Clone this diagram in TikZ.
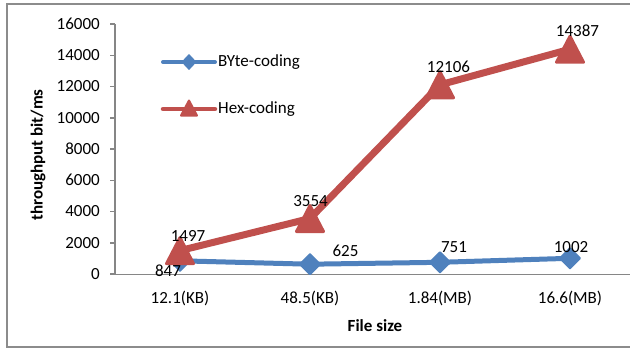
\documentclass[tikz,border=0pt]{standalone}
\usepackage{fontspec}
\setmainfont{Carlito}
\definecolor{serB}{HTML}{4F81BD}
\definecolor{serR}{HTML}{C0504D}
\definecolor{axgray}{HTML}{868686}
\definecolor{brdgray}{HTML}{8C8C8C}
\begin{document}
\begin{tikzpicture}[x=1pt,y=-1pt,
  font=\fontsize{17}{20}\selectfont,
  axisline/.style={draw=axgray, line width=1.5},
  lbl/.style={inner sep=0, anchor=center, text=black},
  ylab/.style={inner sep=0, anchor=east, text=black},
  blueline/.style={draw=serB, line width=5, line join=round, line cap=round},
  redline/.style={draw=serR, line width=7, line join=round, line cap=round},
  tri/.pic={\filldraw[fill=serR, draw=serR, line width=3, line join=round] (-13.5,13) -- (13.5,13) -- (0,-13) -- cycle;},
  trismall/.pic={\filldraw[fill=serR, draw=serR, line width=2, line join=round] (-8,7.5) -- (8,7.5) -- (0,-7.5) -- cycle;},
  dia/.pic={\filldraw[fill=serB, draw=serB, line width=2, line join=round] (-10,0) -- (0,-10) -- (10,0) -- (0,10) -- cycle;},
  diasmall/.pic={\filldraw[fill=serB, draw=serB, line width=1.5, line join=round] (-6.5,0) -- (0,-7) -- (6.5,0) -- (0,7) -- cycle;}
]
\useasboundingbox (0,0) rectangle (630,349);
\fill[white] (0,0) rectangle (630,349);
% outer border
\draw[brdgray, line width=2] (631,4) -- (7,4) -- (7,347) -- (631,347);

% y ticks and labels
\foreach \v/\yy in {0/274,2000/242.75,4000/211.5,6000/180.25,8000/149,10000/117.75,12000/86.5,14000/55.25,16000/24}{
  \draw[axisline] (110,\yy) -- (115,\yy);
  \node[ylab] (yt\v) at (100,\yy) {\v};
}
% axes
\draw[axisline] (115,24) -- (115,274.5) -- (631,274.5);

% category labels
\node[lbl] (c1) at (180,298) {12.1(KB)};
\node[lbl] (c2) at (310,298) {48.5(KB)};
\node[lbl] (c3) at (440,298) {1.84(MB)};
\node[lbl] (c4) at (570,298) {16.6(MB)};

% axis titles
\node[lbl, font=\fontsize{17}{20}\selectfont\bfseries] (xt) at (375,326) {File size};
\node[lbl, rotate=90, font=\fontsize{17}{20}\selectfont\bfseries] (yttl) at (38,155) {throughput bit/ms};

% data points
\coordinate (b1) at (180,260.8);
\coordinate (b2) at (310,264.2);
\coordinate (b3) at (440,262.3);
\coordinate (b4) at (570,258.3);
\coordinate (h1) at (180,250.6);
\coordinate (h2) at (310,218.5);
\coordinate (h3) at (440,84.8);
\coordinate (h4) at (570,49.2);

% series: BYte-coding
\draw[blueline] (b1) -- (b2) -- (b3) -- (b4);
\foreach \p in {b1,b2,b3,b4}{ \path (\p) pic {dia}; }
% series: Hex-coding
\draw[redline] (h1) -- (h2) -- (h3) -- (h4);
\foreach \p in {h1,h2,h3,h4}{ \path (\p) pic {tri}; }

% data labels
\node[lbl] (lb1) at (168,271) {847};
\node[lbl] (lb2) at (345.5,251) {625};
\node[lbl] (lb3) at (454,247) {751};
\node[lbl] (lb4) at (571,247) {1002};
\node[lbl] (lh1) at (188,236) {1497};
\node[lbl] (lh2) at (310.5,201.5) {3554};
\node[lbl] (lh3) at (448.5,67) {12106};
\node[lbl] (lh4) at (577.5,31) {14387};

% legend
\coordinate (lgb1) at (163,62);
\coordinate (lgb2) at (215,62);
\coordinate (lgr1) at (163,109);
\coordinate (lgr2) at (215,109);
\draw[draw=serB, line width=4, line cap=round] (lgb1) -- (lgb2);
\path (189,62) pic {diasmall};
\node[lbl, anchor=west] (lgbt) at (218,62) {BYte-coding};
\draw[draw=serR, line width=4.5, line cap=round] (lgr1) -- (lgr2);
\path (189,108) pic {trismall};
\node[lbl, anchor=west] (lgrt) at (218,109) {Hex-coding};
\end{tikzpicture}
\end{document}
